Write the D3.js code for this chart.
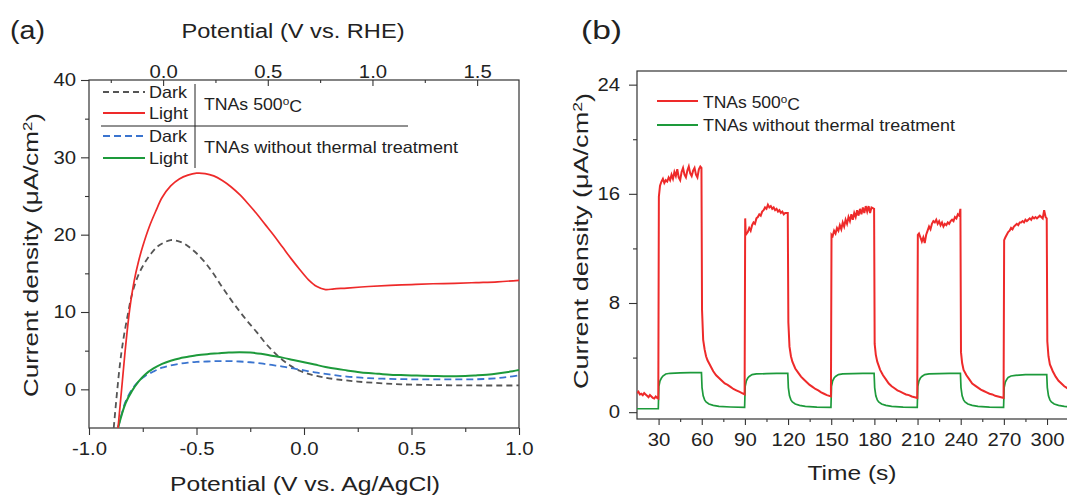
<!DOCTYPE html>
<html><head><meta charset="utf-8">
<script src="https://cdn.jsdelivr.net/npm/d3@7/dist/d3.min.js"></script>
<style>
body{margin:0;background:#fff;}
svg{display:block;font-family:"Liberation Sans",Arial,sans-serif;}
.ax text{font-size:18px;fill:#222;}
.ax line{stroke:#333;stroke-width:1.1;}
.ax path{display:none;}
</style></head>
<body>
<svg id="c" width="1067" height="497"></svg>
<script>
// ---------- Panel (a) data: potential (V vs Ag/AgCl), current density (uA/cm2)
const aXTicks = [-1.0, -0.5, 0.0, 0.5, 1.0];
const aXMinor = [-0.75, -0.25, 0.25, 0.75];
const aTopTicks = [0.0, 0.5, 1.0, 1.5];
const aTopMinor = [-0.25, 0.25, 0.75, 1.25];
const aYTicks = [0, 10, 20, 30, 40];
const aYMinor = [5, 15, 25, 35];

const light500 = [[-0.865,-5],[-0.855,-2],[-0.845,1],[-0.83,5.5],[-0.81,10.5],[-0.79,14],[-0.77,16.5],[-0.75,18.5],[-0.72,21],[-0.69,23],[-0.66,24.8],[-0.62,26.3],[-0.58,27.2],[-0.54,27.7],[-0.50,27.95],[-0.46,27.9],[-0.42,27.6],[-0.38,27.0],[-0.34,26.2],[-0.30,25.2],[-0.26,24.0],[-0.22,22.7],[-0.18,21.3],[-0.14,19.9],[-0.10,18.4],[-0.06,16.9],[-0.02,15.5],[0.02,14.2],[0.06,13.3],[0.10,12.9],[0.14,13.0],[0.20,13.1],[0.30,13.3],[0.40,13.45],[0.50,13.55],[0.60,13.65],[0.70,13.7],[0.80,13.8],[0.90,13.9],[1.00,14.1]];
const dark500 = [[-0.885,-5],[-0.87,-0.5],[-0.855,3.5],[-0.84,6.5],[-0.82,9.6],[-0.80,12.3],[-0.77,14.8],[-0.74,16.4],[-0.71,17.6],[-0.68,18.5],[-0.65,19.0],[-0.62,19.3],[-0.59,19.2],[-0.56,18.9],[-0.53,18.3],[-0.50,17.6],[-0.46,16.4],[-0.42,14.9],[-0.38,13.2],[-0.34,11.6],[-0.30,10.1],[-0.26,8.7],[-0.22,7.4],[-0.18,6.0],[-0.14,4.8],[-0.10,3.8],[-0.06,3.0],[-0.02,2.4],[0.02,2.0],[0.08,1.6],[0.15,1.3],[0.25,1.0],[0.35,0.8],[0.45,0.65],[0.60,0.55],[0.80,0.5],[1.00,0.5]];
const lightRaw = [[-0.865,-5],[-0.85,-3.5],[-0.83,-1.8],[-0.80,-0.2],[-0.77,1.0],[-0.74,1.9],[-0.70,2.7],[-0.66,3.3],[-0.62,3.7],[-0.58,4.0],[-0.54,4.2],[-0.50,4.4],[-0.45,4.55],[-0.40,4.65],[-0.35,4.75],[-0.30,4.8],[-0.25,4.75],[-0.20,4.6],[-0.15,4.35],[-0.10,4.1],[-0.05,3.8],[0.0,3.5],[0.05,3.2],[0.10,2.9],[0.15,2.65],[0.20,2.45],[0.25,2.25],[0.30,2.1],[0.35,2.0],[0.40,1.9],[0.45,1.85],[0.50,1.8],[0.55,1.75],[0.60,1.72],[0.65,1.7],[0.70,1.7],[0.75,1.72],[0.80,1.8],[0.85,1.9],[0.90,2.05],[0.95,2.25],[1.00,2.5]];
const darkRaw = [[-0.865,-5],[-0.85,-3.4],[-0.83,-1.6],[-0.80,0.0],[-0.77,1.0],[-0.74,1.7],[-0.70,2.3],[-0.66,2.8],[-0.62,3.1],[-0.58,3.3],[-0.54,3.45],[-0.50,3.55],[-0.45,3.6],[-0.40,3.65],[-0.35,3.65],[-0.30,3.6],[-0.25,3.5],[-0.20,3.35],[-0.15,3.15],[-0.10,2.95],[-0.05,2.7],[0.0,2.45],[0.05,2.2],[0.10,2.0],[0.15,1.8],[0.20,1.65],[0.25,1.55],[0.30,1.45],[0.40,1.35],[0.50,1.3],[0.60,1.28],[0.70,1.28],[0.80,1.3],[0.90,1.45],[0.95,1.6],[1.00,1.8]];

// ---------- Panel (b) data: time (s), current density (uA/cm2)
const bXTicks = [30, 60, 90, 120, 150, 180, 210, 240, 270, 300];
const bXMinor = [45, 75, 105, 135, 165, 195, 225, 255, 285, 315];
const bYTicks = [0, 8, 16, 24];
const bYMinor = [4, 12, 20];

const chop500 = [[15,1.4],[16,1.5],[17,1.3],[18,1.35],[19,1.25],[20,1.4],[21,1.3],[22,1.2],[23,1.1],[24,1.25],[25,1.15],[26,1.05],[27,1.0],[28,1.15],[29,1.05],[29.8,1.0],
[30.2,15.8],[31,16.6],[32,16.9],[33,17.1],[34,16.8],[35,17.0],[36,16.9],[37,17.2],[38,17.0],[39,17.4],[40,17.1],[41,17.6],[42,17.3],[43,17.8],[44,17.2],[45,17.0],[46,17.6],[47,17.9],[48,17.4],[49,17.2],[50,17.7],[51,18.0],[52,17.5],[53,17.3],[54,17.7],[55,17.9],[56,17.4],[57,17.2],[58,17.8],[59,18.0],[59.8,17.9],
[60.2,7.5],[61,5.3],[62,4.6],[63,4.1],[64,3.8],[66,3.4],[68,3.0],[70,2.7],[72,2.5],[74,2.3],[76,2.1],[78,2.0],[80,1.85],[82,1.7],[84,1.6],[86,1.5],[88,1.4],[89.8,1.3],
[90.2,14.2],[90.6,13.0],[92,13.2],[93,13.5],[94,13.3],[95,13.7],[96,13.9],[97,13.8],[98,14.2],[99,14.3],[100,14.5],[101,14.4],[102,14.7],[103,14.8],[104,15.0],[105,14.9],[106,15.2],[107,15.0],[108,15.1],[109,14.9],[110,15.0],[111,14.8],[112,14.9],[113,14.7],[114,14.8],[115,14.6],[116,14.7],[117,14.5],[118,14.6],[119.8,14.6],
[120.2,6.6],[121,4.8],[122,4.1],[123,3.7],[125,3.2],[127,2.9],[129,2.6],[131,2.4],[133,2.2],[135,2.0],[137,1.85],[139,1.7],[141,1.6],[143,1.45],[145,1.35],[147,1.25],[149.8,1.15],
[150.2,13.0],[151,12.9],[152,13.3],[153,13.1],[154,13.5],[155,13.3],[156,13.7],[157,13.4],[158,13.9],[159,13.6],[160,14.1],[161,13.8],[162,14.3],[163,14.0],[164,14.5],[165,14.1],[166,14.6],[167,14.3],[168,14.8],[169,14.4],[170,14.9],[171,14.5],[172,15.0],[173,14.6],[174,15.1],[175,14.7],[176,15.1],[177,14.6],[178,15.0],[179.8,14.9],
[180.2,5.0],[181,4.2],[182,3.7],[184,3.1],[186,2.7],[188,2.4],[190,2.1],[192,1.9],[194,1.75],[196,1.6],[198,1.5],[200,1.4],[202,1.3],[204,1.25],[206,1.15],[208,1.1],[209.8,1.05],
[210.2,13.0],[211,13.1],[212,12.8],[213,12.5],[214,12.8],[215,12.4],[216,13.0],[217,13.3],[218,13.6],[219,13.4],[220,13.8],[221,14.0],[222,13.9],[223,14.1],[224,13.8],[225,14.0],[226,13.7],[227,13.9],[228,13.6],[229,13.8],[230,13.7],[231,13.9],[232,13.8],[233,14.0],[234,14.1],[235,14.0],[236,14.3],[237,14.2],[238,14.5],[239,14.4],[239.8,14.9],
[240.2,4.4],[241,3.6],[242,3.1],[244,2.7],[246,2.4],[248,2.1],[250,1.95],[252,1.8],[254,1.65],[256,1.55],[258,1.45],[260,1.35],[262,1.3],[264,1.2],[266,1.15],[268,1.1],[269.8,1.05],
[270.2,12.6],[271,12.8],[272,13.0],[273,13.2],[274,13.3],[275,13.5],[276,13.4],[277,13.6],[278,13.7],[279,13.8],[280,13.7],[281,13.9],[282,13.9],[283,14.0],[284,13.9],[285,14.1],[286,14.0],[287,14.1],[288,14.2],[289,14.1],[290,14.3],[291,14.2],[292,14.3],[293,14.2],[294,14.3],[295,14.4],[296,14.3],[297,14.2],[298,14.8],[299,14.3],[299.8,14.2],
[300.2,5.2],[301,4.1],[302,3.5],[304,3.0],[306,2.6],[308,2.3],[310,2.1],[312,1.9],[315,1.7]];

const chopRaw = [[15,0.25],[29.8,0.25],
[30.2,1.9],[31,2.3],[32,2.5],[33,2.65],[35,2.8],[38,2.85],[45,2.88],[52,2.9],[59.8,2.9],
[60.2,1.8],[61,1.2],[62,0.9],[63,0.75],[65,0.6],[68,0.5],[72,0.42],[80,0.38],[89.8,0.35],
[90.2,1.9],[91,2.3],[92,2.5],[93,2.62],[95,2.75],[98,2.8],[105,2.82],[112,2.85],[119.8,2.85],
[120.2,1.8],[121,1.2],[122,0.9],[123,0.75],[125,0.6],[128,0.5],[132,0.42],[140,0.37],[149.8,0.35],
[150.2,1.9],[151,2.3],[152,2.5],[153,2.62],[155,2.75],[158,2.8],[165,2.82],[172,2.85],[179.8,2.85],
[180.2,1.8],[181,1.2],[182,0.9],[183,0.75],[185,0.6],[188,0.5],[192,0.42],[200,0.37],[209.8,0.35],
[210.2,1.9],[211,2.3],[212,2.5],[213,2.62],[215,2.75],[218,2.8],[225,2.82],[232,2.85],[239.8,2.85],
[240.2,1.8],[241,1.2],[242,0.9],[243,0.75],[245,0.6],[248,0.5],[252,0.42],[260,0.37],[269.8,0.35],
[270.2,1.8],[271,2.2],[272,2.4],[273,2.55],[275,2.65],[278,2.7],[285,2.75],[292,2.75],[299.8,2.75],
[300.2,1.8],[301,1.2],[302,0.9],[303,0.75],[305,0.6],[308,0.5],[312,0.42],[315,0.4]];

const RED = "#ee2a2a", GREEN = "#1d9a3b", BLUE = "#3a74cf", GRAY = "#555555";
const STRETCH = 1.13;

const svg = d3.select("#c");
const defs = svg.append("defs");

function stretch(g){
  g.selectAll("text").each(function(){
    const el = d3.select(this);
    const x = +(el.attr("x") || 0);
    el.attr("x", x / STRETCH).attr("transform", `scale(${STRETCH},1)`);
  });
  return g;
}
function label(parent, x, y, len, size, anchor){
  return parent.append("text").attr("x", x).attr("y", y)
    .attr("text-anchor", anchor || "start")
    .attr("textLength", len).attr("lengthAdjust", "spacingAndGlyphs")
    .style("font-size", size + "px").style("fill", "#222");
}
function sup(t, base, s, small){
  t.append("tspan").text(base);
  t.append("tspan").attr("dy","-0.45em").style("font-size", small+"px").text(s);
}

// ================= Panel (a) =================
const aL = 89, aR = 519, aT = 80, aB = 428;
const ax = d3.scaleLinear().domain([-1, 1]).range([aL, aR]);
const axTop = d3.scaleLinear().domain([-0.354, 1.70]).range([aL, aR]);
const ay = d3.scaleLinear().domain([-5, 40]).range([aB, aT]);
const fmt1 = d => d.toFixed(1);

defs.append("clipPath").attr("id","clipA")
  .append("rect").attr("x",aL).attr("y",aT).attr("width",aR-aL).attr("height",aB-aT);

const gA = svg.append("g");
stretch(gA.append("g").attr("class","ax").attr("transform",`translate(0,${aB})`)
  .call(d3.axisBottom(ax).tickValues(aXTicks).tickFormat(fmt1).tickSize(7).tickPadding(7)));
gA.append("g").attr("class","ax").attr("transform",`translate(0,${aB})`)
  .call(d3.axisBottom(ax).tickValues(aXMinor).tickFormat("").tickSize(4));
stretch(gA.append("g").attr("class","ax").attr("transform",`translate(0,${aT})`)
  .call(d3.axisTop(axTop).tickValues(aTopTicks).tickFormat(fmt1).tickSize(-6).tickPadding(2)));
gA.append("g").attr("class","ax").attr("transform",`translate(0,${aT})`)
  .call(d3.axisTop(axTop).tickValues(aTopMinor).tickFormat("").tickSize(-3));
stretch(gA.append("g").attr("class","ax").attr("transform",`translate(${aL},0)`)
  .call(d3.axisLeft(ay).tickValues(aYTicks).tickFormat(d3.format("d")).tickSize(8).tickPadding(5)));
gA.append("g").attr("class","ax").attr("transform",`translate(${aL},0)`)
  .call(d3.axisLeft(ay).tickValues(aYMinor).tickFormat("").tickSize(4));
gA.append("rect").attr("x",aL).attr("y",aT).attr("width",aR-aL).attr("height",aB-aT)
  .attr("fill","none").attr("stroke","#333").attr("stroke-width",1.2);

const lineA = d3.line().x(d=>ax(d[0])).y(d=>ay(d[1])).curve(d3.curveCatmullRom);
const gAD = gA.append("g").attr("clip-path","url(#clipA)");
gAD.append("path").datum(dark500).attr("d",lineA).attr("fill","none").attr("stroke",GRAY).attr("stroke-width",1.8).attr("stroke-dasharray","6,4");
gAD.append("path").datum(darkRaw).attr("d",lineA).attr("fill","none").attr("stroke",BLUE).attr("stroke-width",1.8).attr("stroke-dasharray","7,4");
gAD.append("path").datum(lightRaw).attr("d",lineA).attr("fill","none").attr("stroke",GREEN).attr("stroke-width",2);
gAD.append("path").datum(light500).attr("d",lineA).attr("fill","none").attr("stroke",RED).attr("stroke-width",1.7);

// legend (a)
const legA = gA.append("g");
const legRows = [
  {y:92, c:GRAY, dash:"6,4", t:"Dark", w:38},
  {y:113, c:RED, dash:null, t:"Light", w:39},
  {y:136, c:BLUE, dash:"7,4", t:"Dark", w:38},
  {y:158, c:GREEN, dash:null, t:"Light", w:39}];
legRows.forEach(r=>{
  legA.append("line").attr("x1",103).attr("x2",145).attr("y1",r.y).attr("y2",r.y)
    .attr("stroke",r.c).attr("stroke-width",1.8).attr("stroke-dasharray",r.dash);
  label(legA, 149, r.y+6, r.w, 16.5).text(r.t);
});
legA.append("line").attr("x1",195).attr("x2",195).attr("y1",84).attr("y2",168).attr("stroke","#222").attr("stroke-width",1);
legA.append("line").attr("x1",101).attr("x2",408).attr("y1",126).attr("y2",126).attr("stroke","#222").attr("stroke-width",1);
const tA1 = label(legA, 204, 110, 98, 16.5);
sup(tA1, "TNAs 500", "o", 11);
tA1.append("tspan").attr("dy","0.45em").text("C");
label(legA, 204, 153, 254, 16.5).text("TNAs without thermal treatment");

// axis titles (a)
label(svg, 305, 491, 270, 20, "middle").text("Potential (V vs. Ag/AgCl)");
label(svg, 293, 38, 223, 20, "middle").text("Potential (V vs. RHE)");
function yTitle(x, y, len){
  const t = svg.append("text").attr("transform",`translate(${x},${y}) rotate(-90)`)
    .attr("text-anchor","middle").attr("textLength", len).attr("lengthAdjust","spacingAndGlyphs")
    .style("font-size","20px").style("fill","#222");
  sup(t, "Current density (μA/cm", "2", 13);
  t.append("tspan").attr("dy","0.45em").text(")");
}
yTitle(38, 255, 284);
label(svg, 10, 39, 35, 25).text("(a)");

// ================= Panel (b) =================
const bL = 637, bR = 1068.6, bT = 71, bB = 419;
const bx = d3.scaleLinear().domain([15, 315]).range([bL, bR]);
const by = d3.scaleLinear().domain([-0.5, 25]).range([bB, bT]);

defs.append("clipPath").attr("id","clipB")
  .append("rect").attr("x",bL).attr("y",bT).attr("width",bR-bL).attr("height",bB-bT);

const gB = svg.append("g");
stretch(gB.append("g").attr("class","ax").attr("transform",`translate(0,${bB})`)
  .call(d3.axisBottom(bx).tickValues(bXTicks).tickFormat(d3.format("d")).tickSize(6).tickPadding(8)));
gB.append("g").attr("class","ax").attr("transform",`translate(0,${bB})`)
  .call(d3.axisBottom(bx).tickValues(bXMinor).tickFormat("").tickSize(3));
stretch(gB.append("g").attr("class","ax").attr("transform",`translate(${bL},0)`)
  .call(d3.axisLeft(by).tickValues(bYTicks).tickFormat(d3.format("d")).tickSize(8).tickPadding(9)));
gB.append("g").attr("class","ax").attr("transform",`translate(${bL},0)`)
  .call(d3.axisLeft(by).tickValues(bYMinor).tickFormat("").tickSize(4));
gB.append("rect").attr("x",bL).attr("y",bT).attr("width",bR-bL).attr("height",bB-bT)
  .attr("fill","none").attr("stroke","#333").attr("stroke-width",1.2);

const lineB = d3.line().x(d=>bx(d[0])).y(d=>by(d[1]));
const gBD = gB.append("g").attr("clip-path","url(#clipB)");
gBD.append("path").datum(chopRaw).attr("d",lineB).attr("fill","none").attr("stroke",GREEN).attr("stroke-width",1.7);
gBD.append("path").datum(chop500).attr("d",lineB).attr("fill","none").attr("stroke",RED).attr("stroke-width",2);

const legB = gB.append("g");
legB.append("line").attr("x1",657).attr("x2",698).attr("y1",101).attr("y2",101).attr("stroke",RED).attr("stroke-width",1.8);
const tB1 = label(legB, 703, 108, 97, 16.5);
sup(tB1, "TNAs 500", "o", 11);
tB1.append("tspan").attr("dy","0.45em").text("C");
legB.append("line").attr("x1",657).attr("x2",698).attr("y1",125).attr("y2",125).attr("stroke",GREEN).attr("stroke-width",1.8);
label(legB, 703, 131, 252, 16.5).text("TNAs without thermal treatment");

label(svg, 852, 480, 89, 20, "middle").text("Time (s)");
yTitle(588, 241, 296);
label(svg, 581, 39, 41, 25).text("(b)");
</script>
</body></html>
